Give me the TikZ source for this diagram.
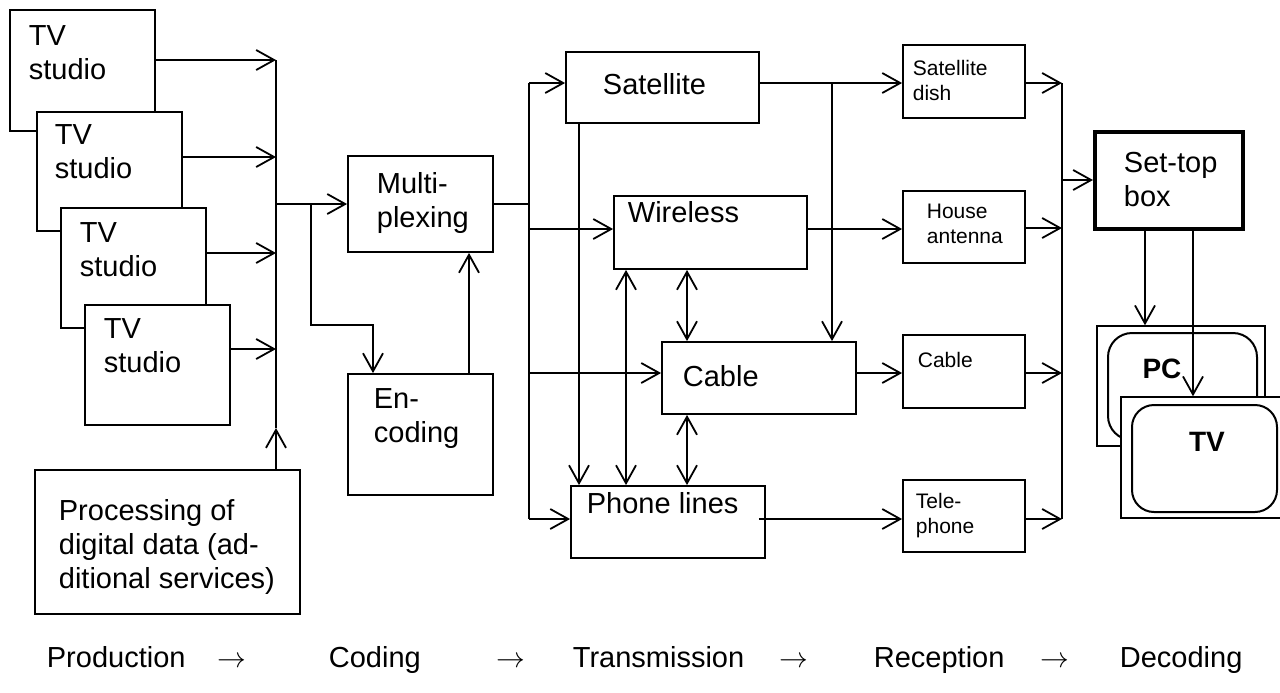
\documentclass[tikz,border=0pt]{standalone}
\usepackage{fontspec}
\setmainfont{Liberation Sans}
\usetikzlibrary{arrows.meta,fit,calc}
\tikzset{
  >={Straight Barb[length=9pt,width=10pt]},
  box/.style={draw, fill=white, inner sep=0pt, line width=0.9pt},
  thinbox/.style={draw, fill=white, inner sep=0pt, line width=0.7pt},
  roundbox/.style={draw, fill=white, inner sep=0pt, line width=1pt, rounded corners=12pt},
  thickbox/.style={draw, fill=white, inner sep=0pt, line width=2pt},
  lbl/.style={inner sep=0pt, anchor=base west, align=left, font=\fontsize{14.5pt}{17pt}\selectfont},
  slbl/.style={inner sep=0pt, anchor=base west, align=left, font=\fontsize{10.5pt}{12.2pt}\selectfont},
  blbl/.style={inner sep=0pt, font=\fontsize{14pt}{17pt}\selectfont\bfseries},
}
\begin{document}
\begin{tikzpicture}[x=0.5pt,y=-0.5pt,line width=0.9pt]
\useasboundingbox (0,0) rectangle (1280,692);
\clip (0,0) rectangle (1280,692);

% ---------- Production ----------
% (multi-line labels: position = baseline of the last line)
\node[box, fit={(10,10) (155,131)}] (t1) {};
\node[box, fit={(37,112) (182,231)}] (t2) {};
\node[box, fit={(61,208) (206,328)}] (t3) {};
\node[box, fit={(85,305) (230,425)}] (t4) {};
\node[lbl] (t1l) at (28,79) {TV\\studio};
\node[lbl] (t2l) at (54,178) {TV\\studio};
\node[lbl] (t3l) at (79,276) {TV\\studio};
\node[lbl] (t4l) at (103,372) {TV\\studio};

\node[box, fit={(35,470) (300,614)}] (proc) {};
\node[lbl] (procl) at (58,588) {Processing of\\digital data (ad-\\ditional services)};

\coordinate (j1) at (276,60);
\coordinate (j2) at (276,157);
\coordinate (j3) at (276,253);
\coordinate (j4) at (276,349);
\coordinate (jp) at (276,428);
\coordinate (jm) at (276,204);

\draw[->] (t1.east |- j1) -- (j1);
\draw[->] (t2.east |- j2) -- (j2);
\draw[->] (t3.east |- j3) -- (j3);
\draw[->] (t4.east |- j4) -- (j4);
\draw (j1) -- (jp);
\draw[->] (proc.north -| jp) -- (jp);

% ---------- Coding ----------
\node[box, fit={(348,156) (493,252)}] (mux) {};
\node[lbl] (muxl) at (376,227) {Multi-\\plexing};
\node[box, fit={(348,374) (493,495)}] (enc) {};
\node[lbl] (encl) at (373,442) {En-\\coding};

\draw[->] (jm) -- (mux.west);
\coordinate (je) at (311,204);
\coordinate (ke) at (373,325);
\draw[->] (je) |- (ke) -- (ke |- enc.north);
\coordinate (ex) at (469,0);
\draw[->] (enc.north -| ex) -- (mux.south -| ex);

% ---------- Transmission ----------
\node[box, fit={(566,52) (759,123)}] (sat) {};
\node[lbl] (satl) at (602,94) {Satellite};
\node[box, fit={(614,196) (807,269)}] (wl) {};
\node[lbl] (wll) at (627,222) {Wireless};
\node[box, fit={(662,342) (856,414)}] (cab) {};
\node[lbl] (cabl) at (682,386) {Cable};
\node[box, fit={(571,486) (765,558)}] (ph) {};
\node[lbl] (phl) at (586,513) {Phone lines};

\coordinate (jt) at (529,204);
\coordinate (d1) at (529,83);
\coordinate (d2) at (529,229);
\coordinate (d3) at (529,373);
\coordinate (d4) at (529,519);
\draw (mux.east |- jt) -- (jt);
\draw (d1) -- (d4);
\draw[->] (d1) -- (d1 -| sat.west);
\draw[->] (d2) -- (d2 -| wl.west);
\draw[->] (d3) -- (d3 -| cab.west);
\draw[->] (d4) -- (d4 -| ph.west);

\coordinate (xs) at (579,0);
\draw[->] (sat.south -| xs) -- (ph.north -| xs);
\coordinate (xw) at (626,0);
\draw[<->] (wl.south -| xw) -- (ph.north -| xw);
\coordinate (xc) at (687,0);
\draw[<->] (wl.south -| xc) -- (cab.north -| xc);
\draw[<->] (cab.south -| xc) -- (ph.north -| xc);

% ---------- Reception ----------
\node[box, fit={(903,45) (1025,118)}] (dish) {};
\node[slbl] (dishl) at (912,100) {Satellite\\dish};
\node[box, fit={(903,191) (1025,263)}] (ant) {};
\node[slbl] (antl) at (926,243) {House\\antenna};
\node[box, fit={(903,335) (1025,408)}] (cab2) {};
\node[slbl] (cab2l) at (917,367) {Cable};
\node[box, fit={(903,480) (1025,552)}] (tel) {};
\node[slbl] (tell) at (915,533) {Tele-\\phone};

\coordinate (sb) at (832,83);
\draw[->] (sat.east |- d1) -- (dish.west |- d1);
\draw[->] (sb) -- (sb |- cab.north);
\draw[->] (wl.east |- d2) -- (ant.west |- d2);
\draw[->] (cab.east |- d3) -- (cab2.west |- d3);
\draw[->] ([xshift=-3.5pt]ph.east |- d4) -- (tel.west |- d4);

\coordinate (r1) at (1062,83);
\coordinate (r2) at (1062,228);
\coordinate (r3) at (1062,373);
\coordinate (r4) at (1062,519);
\coordinate (rs) at (1062,180);
\draw[->] (dish.east |- r1) -- (r1);
\draw[->] (ant.east |- r2) -- (r2);
\draw[->] (cab2.east |- r3) -- (r3);
\draw[->] (tel.east |- r4) -- (r4);
\draw (r1) -- (r4);

% ---------- Decoding ----------
\node[thickbox, fit={(1095,132) (1243,229)}] (stb) {};
\node[lbl] (stbl) at (1123,206) {Set-top\\box};
\draw[->] (rs) -- (rs -| stb.west);

\node[thinbox, fit={(1097,326) (1265,446)}] (pcout) {};
\node[roundbox, fit={(1108,333) (1257,440)}] (pcin) {};
\node[blbl] (pcl) at (1162,369) {PC};

\coordinate (xp) at (1145,0);
\coordinate (xt) at (1193,0);
\draw[->] (stb.south -| xp) -- (pcout.north -| xp);

\node[thinbox, fit={(1121,397) (1284,518)}] (tvout) {};
\node[roundbox, rounded corners=11pt, fit={(1132,405) (1277,512)}] (tvin) {};
\node[blbl] (tvl) at (1207,442) {TV};
\draw[->] (stb.south -| xt) -- (tvout.north -| xt);

% ---------- Bottom row ----------
\node[lbl] (s1) at (46,667) {Production};
\node[lbl] (a1) at (217,667) {$\rightarrow$};
\node[lbl] (s2) at (328,667) {Coding};
\node[lbl] (a2) at (496,667) {$\rightarrow$};
\node[lbl] (s3) at (572,667) {Transmission};
\node[lbl] (a3) at (779,667) {$\rightarrow$};
\node[lbl] (s4) at (873,667) {Reception};
\node[lbl] (a4) at (1040,667) {$\rightarrow$};
\node[lbl] (s5) at (1119,667) {Decoding};
\end{tikzpicture}
\end{document}
